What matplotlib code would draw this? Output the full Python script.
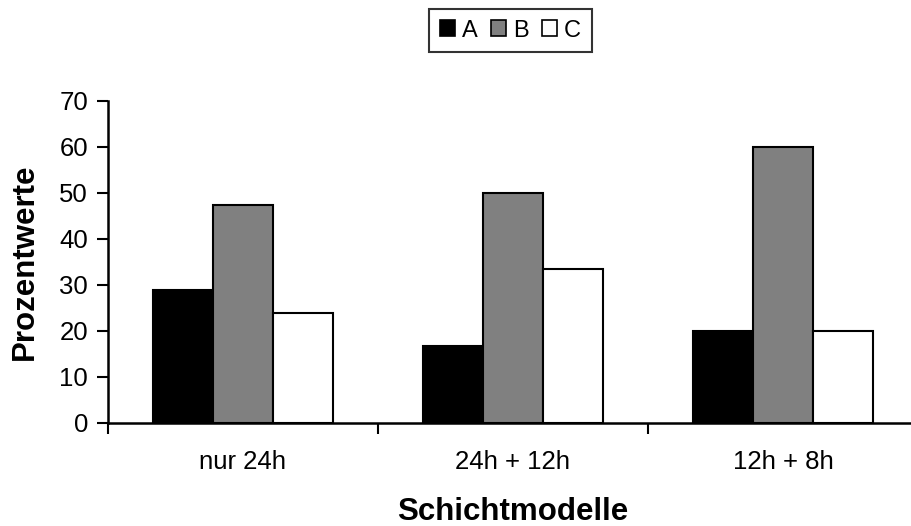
import numpy as np
import matplotlib
matplotlib.use('Agg')
import matplotlib.pyplot as plt

plt.rcParams['font.family'] = ['Liberation Sans', 'DejaVu Sans']

# data
categories = ['nur 24h', '24h + 12h', '12h + 8h']
series_names = ['A', 'B', 'C']
vals_a = [28.8, 16.6, 20.0]
vals_b = [47.4, 50.0, 60.0]
vals_c = [23.8, 33.4, 20.0]
yticks = [0, 10, 20, 30, 40, 50, 60, 70]

colors = ['black', '#808080', 'white']

fig = plt.figure(figsize=(9.12, 5.26), dpi=100)
ax = fig.add_axes([0.118, 0.1964, 0.8885, 0.6116])

x = np.arange(len(categories)) + 0.5
w = 0.2225
for i, (vals, name) in enumerate(zip([vals_a, vals_b, vals_c], series_names)):
    ax.bar(x + (i - 1) * w, vals, width=w, color=colors[i], edgecolor='black',
           linewidth=1.5, label=name, zorder=3)

ax.set_xlim(0, 3)
ax.set_ylim(0, 70)
ax.set_yticks(yticks)
ax.set_xticks([0, 1, 2, 3])
ax.set_xticklabels([])
ax.set_xticks(x, minor=True)
ax.set_xticklabels(categories, minor=True)
ax.tick_params(axis='x', which='minor', length=0, pad=20, labelsize=18.5)
ax.tick_params(axis='x', which='major', length=8, width=1.5, direction='out')
ax.tick_params(axis='y', length=8, width=1.5, direction='out', pad=6, labelsize=18.5)

for s in ['top', 'right']:
    ax.spines[s].set_visible(False)
for s in ['left', 'bottom']:
    ax.spines[s].set_linewidth(1.8)

ax.set_xlabel('Schichtmodelle', fontsize=22.5, fontweight='bold', labelpad=16)
ax.set_ylabel('Prozentwerte', fontsize=22.5, fontweight='bold', labelpad=14)

leg = fig.legend(loc='center', bbox_to_anchor=(0.5597, 0.942), ncol=3,
                 fontsize=17, frameon=True, fancybox=False, edgecolor='black',
                 handlelength=0.64, handleheight=0.64, handletextpad=0.3,
                 columnspacing=0.55, borderpad=0.45, borderaxespad=0)
leg.get_frame().set_linewidth(1.5)
for h in leg.legend_handles:
    h.set_linewidth(1.2)

fig.savefig('out.png', dpi=100)
